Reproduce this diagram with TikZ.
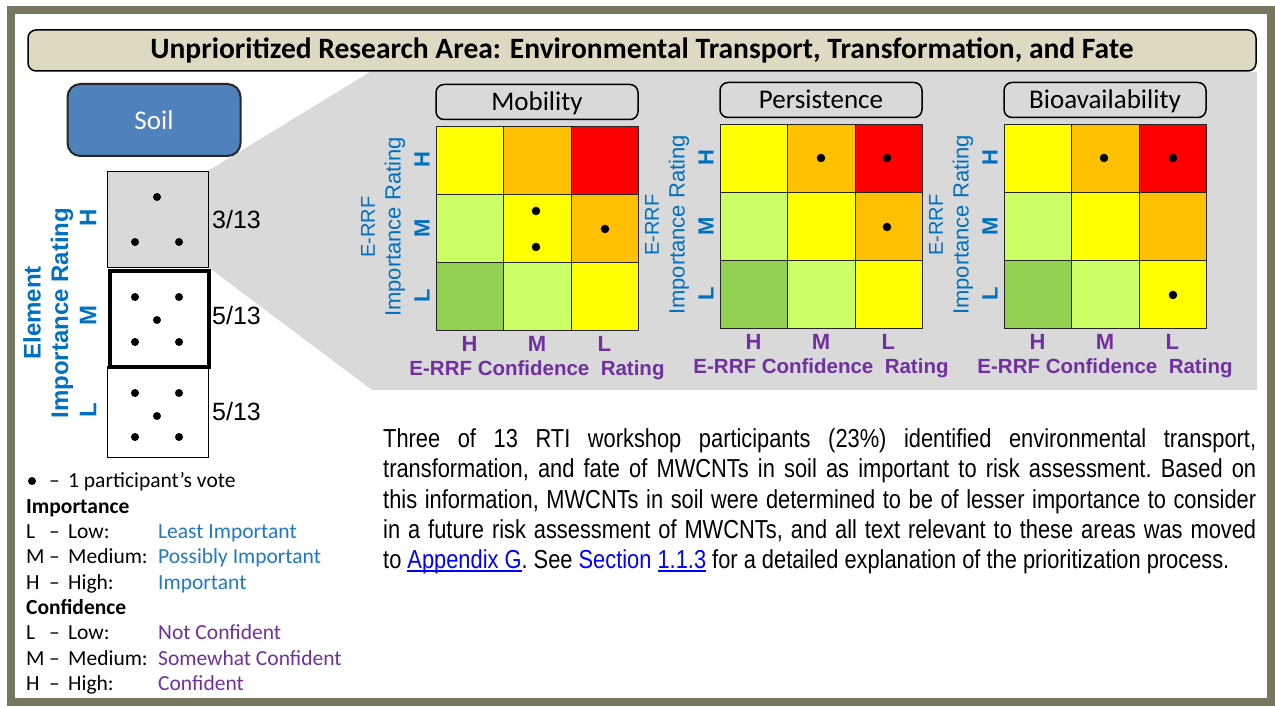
\documentclass[tikz,border=0pt]{standalone}
\usepackage{fontspec}
\setmainfont{Liberation Sans}
\newfontfamily\calib{Carlito}
\newfontfamily\narrowf[FakeStretch=0.84]{Liberation Sans}
\definecolor{framec}{RGB}{119,119,97}
\definecolor{titlec}{HTML}{DDD9C3}
\definecolor{soilc}{HTML}{4F81BD}
\definecolor{panelc}{HTML}{D9D9D9}
\definecolor{ablue}{HTML}{0070C0}
\definecolor{lblue}{HTML}{1F78C8}
\definecolor{apurp}{HTML}{7030A0}
\definecolor{cyel}{HTML}{FFFF00}
\definecolor{corg}{HTML}{FFC000}
\definecolor{cred}{HTML}{FF0000}
\definecolor{clgr}{HTML}{CCFF66}
\definecolor{cgrn}{HTML}{92D050}
\definecolor{linkc}{HTML}{0000FF}
\newcommand\lnkul[1]{\setbox0=\hbox{#1}\rlap{\rule[-3.5pt]{\wd0}{1.3pt}}\box0}
\tikzset{
  cellbox/.style={draw=black!85, line width=1pt, minimum width=67.3pt, minimum height=68pt, inner sep=0pt, anchor=north west},
  ttlbox/.style={draw=black, line width=1.5pt, rounded corners=8pt, fill=panelc, minimum width=202pt, minimum height=35pt, inner sep=0pt, text height=20pt, text depth=2.6pt, font=\calib\fontsize{27}{30}\selectfont},
  rowlab/.style={rotate=90, text=ablue, font=\bfseries\fontsize{22}{24}\selectfont, inner sep=0pt},
  collab/.style={text=apurp, font=\bfseries\fontsize{22}{24}\selectfont, inner sep=0pt},
  axlab/.style={text=apurp, font=\bfseries\fontsize{20.5}{24}\selectfont, inner sep=0pt},
  sidelab/.style={rotate=90, text=ablue, font=\fontsize{22}{24}\selectfont, inner sep=0pt},
  vote/.style={fill=black, circle, inner sep=0pt, minimum size=8pt},
  colbox/.style={draw=black, line width=1pt, minimum width=101pt, inner sep=0pt, anchor=north west},
  frac/.style={anchor=west, inner sep=0pt, font=\fontsize{25}{28}\selectfont},
  lg/.style={anchor=base west, inner sep=0pt, font=\calib\fontsize{21.5}{24}\selectfont},
  paraline/.style={anchor=base west, inner sep=0pt, font=\narrowf\fontsize{26}{30}\selectfont},
}
\newcommand\riskgrid[4]{%
  \foreach \r/\c/\cc in {0/0/cyel,0/1/corg,0/2/cred,1/0/clgr,1/1/cyel,1/2/corg,2/0/cgrn,2/1/clgr,2/2/cyel}{
    \node[cellbox, fill=\cc] (#1-\r-\c) at ({#2+\c*67.3},{#3+\r*68}) {};
  }
  \node[ttlbox] (#1-t) at ({#2+101},{#3-24}) {#4};
  \node[rowlab] (#1-rH) at ({#2-14},{#3+34}) {H};
  \node[rowlab] (#1-rM) at ({#2-14},{#3+102}) {M};
  \node[rowlab] (#1-rL) at ({#2-14},{#3+170}) {L};
  \node[collab] (#1-cH) at ({#2+33.6},{#3+218}) {H};
  \node[collab] (#1-cM) at ({#2+101},{#3+218}) {M};
  \node[collab] (#1-cL) at ({#2+168.3},{#3+218}) {L};
  \node[axlab] (#1-ax) at ({#2+101},{#3+244}) {E-RRF Confidence\ \ Rating};
  \node[sidelab, font=\fontsize{20}{22}\selectfont] (#1-e) at ({#2-68},{#3+101}) {E-RRF};
  \node[sidelab] (#1-i) at ({#2-41},{#3+101}) {Importance Rating};
}
\begin{document}
\begin{tikzpicture}[x=1pt,y=-1pt]
\useasboundingbox (0,0) rectangle (1275,708);
\fill[white] (0,0) rectangle (1275,708);
\draw[framec, line width=8pt] (11,10) rectangle (1271,702);
% zoom panel
\fill[panelc] (208,171) -- (370,72) -- (1257,72) -- (1257,390) -- (372,390) -- (208,267) -- cycle;
% title bar
\node[draw=black, line width=1.5pt, fill=titlec, rounded corners=8pt, minimum width=1228pt, minimum height=41pt, inner sep=0pt,
  font=\calib\bfseries\fontsize{29.5}{32}\selectfont] (title) at (642,50.5)
  {Unprioritized Research Area: Environmental Transport, Transformation, and Fate};
% soil box
\node[draw=black!85, line width=2pt, fill=soilc, rounded corners=13pt, minimum width=173pt, minimum height=72pt, inner sep=0pt,
  text=white, font=\calib\fontsize{27}{30}\selectfont] (soil) at (154,120) {Soil};
% dot column
\node[colbox, fill=panelc, minimum height=96pt] (bH) at (107,171) {};
\node[colbox, minimum height=91pt] (bL) at (107,366) {};
\node[colbox, line width=4pt, minimum height=96pt, minimum width=99pt] (bM) at (108,269) {};
\foreach \n/\x/\y in {h1/157/197,h2/135/242,h3/179/242,
  m1/135/297,m2/179/297,m3/157/320,m4/135/342,m5/179/342,
  l1/135/393,l2/179/393,l3/157/416,l4/135/437,l5/179/437}{
  \node[vote] (d\n) at (\x,\y) {};
}
\node[frac] (fH) at (212,220) {3/13};
\node[frac] (fM) at (212,316) {5/13};
\node[frac] (fL) at (212,412) {5/13};
\node[rowlab, font=\bfseries\fontsize{24}{26}\selectfont] (eH) at (88,218) {H};
\node[rowlab, font=\bfseries\fontsize{24}{26}\selectfont] (eM) at (88,316) {M};
\node[rowlab, font=\bfseries\fontsize{24}{26}\selectfont] (eL) at (88,410) {L};
\node[rowlab, font=\bfseries\fontsize{24}{26}\selectfont] (eEl) at (32,313) {Element};
\node[rowlab, font=\bfseries\fontsize{24}{26}\selectfont] (eIR) at (62,313) {Importance Rating};
% risk grids
\riskgrid{mob}{436}{126}{Mobility}
\riskgrid{per}{720}{124}{Persistence}
\riskgrid{bio}{1004}{124}{Bioavailability}
% votes in grids
\foreach \n/\x/\y in {mob1/536/211,mob2/536/247,mob3/605/229,
  per1/821/158,per2/887/158,per3/887/227,
  bio1/1104/158,bio2/1173/158,bio3/1173/295}{
  \node[vote, minimum size=8.5pt] (g\n) at (\x,\y) {};
}
% legend
\node[vote] (lgdot) at (32,481) {};
\node[lg] (lg0a) at (49,487) {–};
\node[lg] (lg0) at (68,487) {1 participant’s vote};
\node[lg, font=\calib\bfseries\fontsize{21.5}{24}\selectfont] (lg1) at (26,513) {Importance};
\node[lg] (lg2a) at (26,538) {L};
\node[lg] (lg2b) at (49,538) {–};
\node[lg] (lg2d) at (68,538) {Low:};
\node[lg, text=lblue] (lg2c) at (158,538) {Least Important};
\node[lg] (lg3a) at (26,563) {M};
\node[lg] (lg3b) at (49,563) {–};
\node[lg] (lg3d) at (68,563) {Medium:};
\node[lg, text=lblue] (lg3c) at (158,563) {Possibly Important};
\node[lg] (lg4a) at (26,589) {H};
\node[lg] (lg4b) at (49,589) {–};
\node[lg] (lg4d) at (68,589) {High:};
\node[lg, text=lblue] (lg4c) at (158,589) {Important};
\node[lg, font=\calib\bfseries\fontsize{21.5}{24}\selectfont] (lg5) at (26,614) {Confidence};
\node[lg] (lg6a) at (26,639) {L};
\node[lg] (lg6b) at (49,639) {–};
\node[lg] (lg6d) at (68,639) {Low:};
\node[lg, text=apurp] (lg6c) at (158,639) {Not Confident};
\node[lg] (lg7a) at (26,665) {M};
\node[lg] (lg7b) at (49,665) {–};
\node[lg] (lg7d) at (68,665) {Medium:};
\node[lg, text=apurp] (lg7c) at (158,665) {Somewhat Confident};
\node[lg] (lg8a) at (26,690) {H};
\node[lg] (lg8b) at (49,690) {–};
\node[lg] (lg8d) at (68,690) {High:};
\node[lg, text=apurp] (lg8c) at (158,690) {Confident};
% paragraph
\node[paraline] (p1) at (383,448) {\frenchspacing\makebox[873pt][s]{Three of 13 RTI workshop participants (23\%) identified environmental transport,}};
\node[paraline] (p2) at (383,478) {\frenchspacing\makebox[873pt][s]{transformation, and fate of MWCNTs in soil as important to risk assessment. Based on}};
\node[paraline] (p3) at (383,508) {\frenchspacing\makebox[873pt][s]{this information, MWCNTs in soil were determined to be of lesser importance to consider}};
\node[paraline] (p4) at (383,538) {\frenchspacing\makebox[873pt][s]{in a future risk assessment of MWCNTs, and all text relevant to these areas was moved}};
\node[paraline] (p5) at (383,568) {\frenchspacing to {\color{linkc}\lnkul{Appendix G}}. See {\color{linkc}Section} {\color{linkc}\lnkul{1.1.3}} for a detailed explanation of the prioritization process.};
\end{tikzpicture}
\end{document}
